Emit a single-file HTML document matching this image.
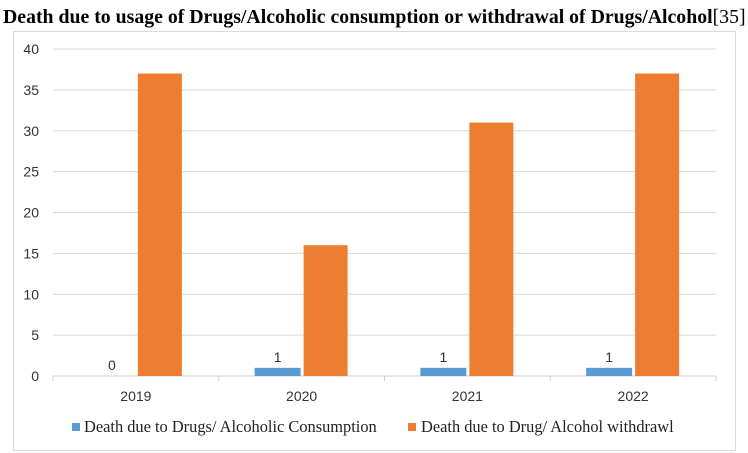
<!DOCTYPE html>
<html><head><meta charset="utf-8"><style>
body{margin:0;width:748px;height:453px;background:#fff;overflow:hidden}
svg{display:block}
</style></head><body>
<svg width="748" height="453">
<text x="3" y="23" font-family="Liberation Serif" font-size="19.8" font-weight="bold">Death due to usage of Drugs/Alcoholic consumption or withdrawal of Drugs/Alcohol<tspan font-weight="normal">[35]</tspan></text>
<rect x="13.5" y="31.5" width="722" height="419" fill="#fff" stroke="#d9d9d9"/>
<g id="grid"></g><g id="bars"></g><g id="labels"></g>
<g>
<rect x="72" y="423" width="8" height="8" fill="#5b9bd5"/>
<text x="84" y="432" font-family="Liberation Serif" font-size="16.4" fill="#222">Death due to Drugs/ Alcoholic Consumption</text>
<rect x="408" y="423" width="8" height="8" fill="#ed7d31"/>
<text x="421" y="432" font-family="Liberation Serif" font-size="16.4" fill="#222">Death due to Drug/ Alcohol withdrawl</text>
</g>
</svg>
<script>
const categories=["2019","2020","2021","2022"];
const consumption=[0,1,1,1];
const withdrawal=[37,16,31,37];
const yTicks=[0,5,10,15,20,25,30,35,40];
const NS="http://www.w3.org/2000/svg";
const x0=53,x1=716,yBase=376,yTop=49,yMax=40;
const bw=(x1-x0)/categories.length;
const y=v=>yBase-(v/yMax)*(yBase-yTop);
const cx=i=>x0+bw*(i+0.5);
function mk(tag,attrs,parent){const e=document.createElementNS(NS,tag);for(const k in attrs)e.setAttribute(k,attrs[k]);document.getElementById(parent).appendChild(e);return e;}
yTicks.forEach(t=>{
 const l=mk('line',{x1:x0,x2:x1,y1:y(t),y2:y(t),stroke:t===0?'#d0d0d0':'#d9d9d9','stroke-width':1},'grid');
 
 
 const tx=mk('text',{x:39,y:y(t)+5,'text-anchor':'end','font-family':'Liberation Sans','font-size':14,fill:'#333'},'grid');
 tx.textContent=t;
 
 
});
for(let i=0;i<=categories.length;i++){
 const l=mk('line',{x1:x0+bw*i,x2:x0+bw*i,y1:yBase,y2:yBase+5,stroke:'#d0d0d0'},'grid');
 
 
}
categories.forEach((c,i)=>{
 const c0=cx(i);
 const b=mk('rect',{x:c0-47,y:y(consumption[i]),width:46,height:yBase-y(consumption[i]),fill:'#5b9bd5'},'bars');
 
 
 const o=mk('rect',{x:c0+2,y:y(withdrawal[i]),width:44,height:yBase-y(withdrawal[i]),fill:'#ed7d31'},'bars');
 
 
 const v=mk('text',{x:c0-24,y:y(consumption[i])-6,'text-anchor':'middle','font-family':'Liberation Sans','font-size':14,fill:'#333'},'labels');
 v.textContent=consumption[i];
 
 
 const xl=mk('text',{x:c0,y:401,'text-anchor':'middle','font-family':'Liberation Sans','font-size':14,fill:'#333'},'labels');
 xl.textContent=c;
 
 
});
</script>
</body></html>
